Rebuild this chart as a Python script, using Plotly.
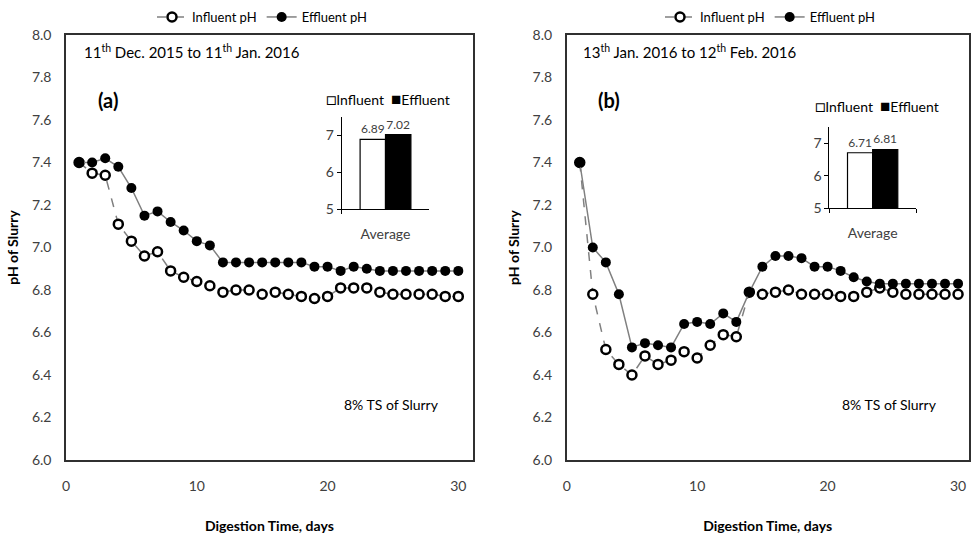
import plotly.graph_objects as go

# ---------------- data ----------------
days = list(range(1, 31))

influent_a = [7.40, 7.35, 7.34, 7.11, 7.03, 6.96, 6.98, 6.89, 6.86, 6.84,
              6.82, 6.79, 6.80, 6.80, 6.78, 6.79, 6.78, 6.77, 6.76, 6.77,
              6.81, 6.81, 6.81, 6.79, 6.78, 6.78, 6.78, 6.78, 6.77, 6.77]
effluent_a = [7.40, 7.40, 7.42, 7.38, 7.28, 7.15, 7.17, 7.12, 7.08, 7.03,
              7.01, 6.93, 6.93, 6.93, 6.93, 6.93, 6.93, 6.93, 6.91, 6.91,
              6.89, 6.91, 6.90, 6.89, 6.89, 6.89, 6.89, 6.89, 6.89, 6.89]

influent_b = [7.40, 6.78, 6.52, 6.45, 6.40, 6.49, 6.45, 6.47, 6.51, 6.48,
              6.54, 6.59, 6.58, 6.79, 6.78, 6.79, 6.80, 6.78, 6.78, 6.78,
              6.77, 6.77, 6.79, 6.81, 6.79, 6.78, 6.78, 6.78, 6.78, 6.78]
effluent_b = [7.40, 7.00, 6.93, 6.78, 6.53, 6.55, 6.54, 6.53, 6.64, 6.65,
              6.64, 6.69, 6.65, 6.79, 6.91, 6.96, 6.96, 6.95, 6.91, 6.91,
              6.89, 6.86, 6.84, 6.83, 6.83, 6.83, 6.83, 6.83, 6.83, 6.83]

avg_category = ["Average"]
avg_influent_a = [6.89]
avg_effluent_a = [7.02]
avg_influent_b = [6.71]
avg_effluent_b = [6.81]

y_ticks = [6.0, 6.2, 6.4, 6.6, 6.8, 7.0, 7.2, 7.4, 7.6, 7.8, 8.0]
x_ticks = [0, 10, 20, 30]
inset_ticks = [5, 6, 7]

series_names = ["Influent pH", "Effluent pH"]
period_a = "11<sup>th</sup> Dec. 2015 to 11<sup>th</sup> Jan. 2016"
period_b = "13<sup>th</sup> Jan. 2016 to 12<sup>th</sup> Feb. 2016"

# ---------------- style ----------------
W, H = 971, 536
FONT = "Lato"
TICK_COL = "#404040"
LINE_COL = "#808080"


def px_x(v):
    return v / W


def px_y(v):
    return 1 - v / H


fig = go.Figure()


def add_lines(xa, ya, infl, effl, legend):
    fig.add_trace(go.Scatter(
        x=days, y=infl, name=series_names[0], mode="lines+markers",
        xaxis=xa, yaxis=ya, legend=legend,
        line=dict(color=LINE_COL, width=1.5, dash="dash"),
        marker=dict(symbol="circle", size=9, color="white",
                    line=dict(color="black", width=2.5)),
    ))
    fig.add_trace(go.Scatter(
        x=days, y=effl, name=series_names[1], mode="lines+markers",
        xaxis=xa, yaxis=ya, legend=legend,
        line=dict(color=LINE_COL, width=1.5),
        marker=dict(symbol="circle", size=10, color="black"),
    ))


def add_bars(xa, ya, infl, effl):
    fig.add_trace(go.Bar(
        x=avg_category, y=infl, name="Influent", xaxis=xa, yaxis=ya,
        showlegend=False, marker=dict(color="white", line=dict(color="black", width=1.2)),
        text=[f"{v:.2f}" for v in infl], textposition="outside",
        textfont=dict(family=FONT, size=12, color="#404040"), cliponaxis=False,
    ))
    fig.add_trace(go.Bar(
        x=avg_category, y=effl, name="Effluent", xaxis=xa, yaxis=ya,
        showlegend=False, marker=dict(color="black", line=dict(color="black", width=1.2)),
        text=[f"{v:.2f}" for v in effl], textposition="outside",
        textfont=dict(family=FONT, size=12, color="#404040"), cliponaxis=False,
    ))


add_lines("x", "y", influent_a, effluent_a, "legend")
add_lines("x2", "y2", influent_b, effluent_b, "legend2")
add_bars("x3", "y3", avg_influent_a, avg_effluent_a)
add_bars("x4", "y4", avg_influent_b, avg_effluent_b)

main_top, main_bot = 35, 460
frame = dict(showline=True, linecolor="#303030", linewidth=1.5, mirror=True,
             showgrid=False, zeroline=False, ticks="", automargin=False,
             tickfont=dict(family=FONT, size=14, color=TICK_COL))

xmain = dict(frame, tickvals=x_ticks, ticklabelstandoff=12,
             title=dict(text="<b>Digestion Time, days</b>", standoff=29,
                        font=dict(family=FONT, size=14, color="black")))
ymain = dict(frame, tickvals=y_ticks, tickformat=".1f", range=[6.0, 8.0],
             ticklabelstandoff=10,
             title=dict(text="<b>pH of Slurry</b>", standoff=10,
                        font=dict(family=FONT, size=14, color="black")))

inset_x = dict(type="category", showline=True, linecolor="black", linewidth=1,
               ticks="outside", ticklen=4, tickcolor="black", tickson="boundaries",
               showgrid=False, ticklabelstandoff=12, automargin=False,
               tickfont=dict(family=FONT, size=14, color=TICK_COL))
inset_y = dict(showline=True, linecolor="black", linewidth=1, range=[5, 7.5],
               tickvals=inset_ticks, ticks="outside", ticklen=4, tickcolor="black",
               showgrid=False, zeroline=False, automargin=False,
               tickfont=dict(family=FONT, size=14, color=TICK_COL))

fig.update_layout(
    width=W, height=H,
    margin=dict(l=0, r=0, t=0, b=0, autoexpand=False),
    paper_bgcolor="white", plot_bgcolor="rgba(0,0,0,0)",
    font=dict(family=FONT, size=13, color="black"),
    barmode="group", bargap=0.42, bargroupgap=0,
    xaxis=dict(xmain, domain=[px_x(66), px_x(472.7)], range=[0, 31.1], anchor="y"),
    yaxis=dict(ymain, domain=[px_y(main_bot), px_y(main_top)], anchor="x"),
    xaxis2=dict(xmain, domain=[px_x(566.7), px_x(968.5)], range=[0, 30.8], anchor="y2"),
    yaxis2=dict(ymain, domain=[px_y(main_bot), px_y(main_top)], anchor="x2"),
    xaxis3=dict(inset_x, domain=[px_x(341.7), px_x(429.3)], anchor="y3"),
    yaxis3=dict(inset_y, domain=[px_y(209.3), px_y(209.3 - 2.5 * 37)], anchor="x3"),
    xaxis4=dict(inset_x, domain=[px_x(829.3), px_x(916)], anchor="y4"),
    yaxis4=dict(inset_y, domain=[px_y(208.3), px_y(208.3 - 2.5 * 32.5)], anchor="x4"),
    legend=dict(orientation="h", x=px_x(262), xanchor="center", y=px_y(17), yanchor="middle",
                font=dict(family=FONT, size=13, color="black"), bgcolor="rgba(0,0,0,0)",
                itemwidth=30),
    legend2=dict(orientation="h", x=px_x(770), xanchor="center", y=px_y(17), yanchor="middle",
                 font=dict(family=FONT, size=13, color="black"), bgcolor="rgba(0,0,0,0)",
                 itemwidth=30),
)

ann_font = dict(family=FONT, size=15, color="black")
inset_legend = ("<span style='font-size:17px'>□</span>Influent  "
                "<span style='font-size:17px'>■</span>Effluent")
annotations = [
    dict(text=period_a, x=px_x(82), y=px_y(52), xanchor="left", yanchor="middle"),
    dict(text=period_b, x=px_x(581), y=px_y(52), xanchor="left", yanchor="middle"),
    dict(text="<b>(a)</b>", x=px_x(96), y=px_y(100), xanchor="left", yanchor="middle",
         font=dict(family=FONT, size=20, color="black")),
    dict(text="<b>(b)</b>", x=px_x(596), y=px_y(100), xanchor="left", yanchor="middle",
         font=dict(family=FONT, size=20, color="black")),
    dict(text="8% TS of Slurry", x=px_x(391), y=px_y(404), xanchor="center", yanchor="middle",
         font=dict(family=FONT, size=14, color="black")),
    dict(text="8% TS of Slurry", x=px_x(889), y=px_y(404), xanchor="center", yanchor="middle",
         font=dict(family=FONT, size=14, color="black")),
    dict(text=inset_legend, x=px_x(388), y=px_y(98), xanchor="center", yanchor="middle",
         font=dict(family=FONT, size=14, color="black")),
    dict(text=inset_legend, x=px_x(877), y=px_y(105), xanchor="center", yanchor="middle",
         font=dict(family=FONT, size=14, color="black")),
]
for a in annotations:
    a.setdefault("font", ann_font)
    a.update(xref="paper", yref="paper", showarrow=False)
fig.update_layout(annotations=annotations)

fig.write_html("out.html", config={"displayModeBar": False},
               post_script="document.body.style.margin='0';")
